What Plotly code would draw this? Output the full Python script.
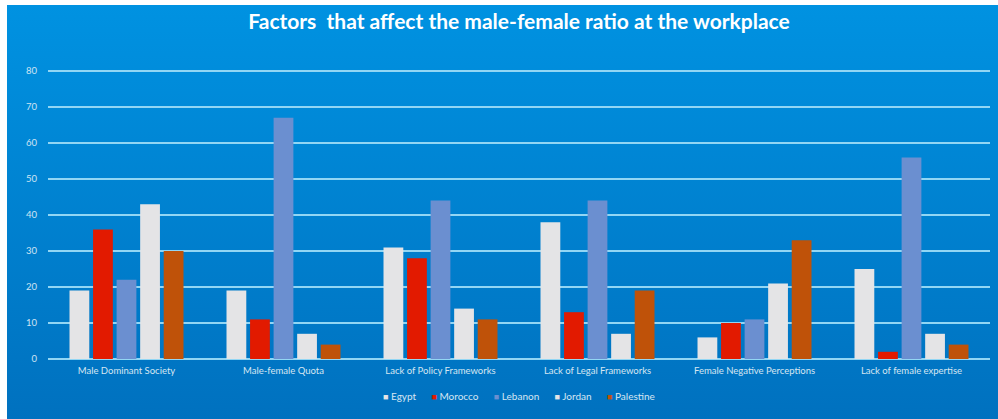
import base64
import plotly.graph_objects as go

categories = ["Male Dominant Society", "Male-female Quota", "Lack of Policy Frameworks",
              "Lack of Legal Frameworks", "Female Negative Perceptions", "Lack of female expertise"]
series_names = ["Egypt", "Morocco", "Lebanon", "Jordan", "Palestine"]
egypt = [19, 19, 31, 38, 6, 25]
morocco = [36, 11, 28, 13, 10, 2]
lebanon = [22, 67, 44, 44, 11, 56]
jordan = [43, 7, 14, 7, 21, 7]
palestine = [30, 4, 11, 19, 33, 4]
values = [egypt, morocco, lebanon, jordan, palestine]
colors = ["#e4e4e6", "#e21a00", "#6b8fd0", "#e4e4e6", "#bf5209"]
y_ticks = [0, 10, 20, 30, 40, 50, 60, 70, 80]

fig = go.Figure()
for name, vals, col in zip(series_names, values, colors):
    fig.add_trace(go.Bar(name=name, x=categories, y=vals, showlegend=False,
                         marker=dict(color=col, line=dict(width=0))))

svg = ('<svg xmlns="http://www.w3.org/2000/svg" width="100" height="100" preserveAspectRatio="none">'
       '<defs><linearGradient id="g" x1="0" y1="0" x2="0" y2="1">'
       '<stop offset="0" stop-color="#0092e1"/><stop offset="1" stop-color="#0071bf"/>'
       '</linearGradient></defs><rect width="100" height="100" fill="url(#g)"/></svg>')
src = "data:image/svg+xml;base64," + base64.b64encode(svg.encode()).decode()

L, R, T, B = 48, 8, 64, 60
W, H = 998, 419
pw, ph = W - L - R, H - T - B
ymax = ph / 3.6
x0 = (7 - L) / pw
x1 = (998 - L) / pw
y0 = (H - B - 5) / ph
y1 = (H - B - 419) / ph

gap = "&nbsp;" * 6
legend_text = gap.join(
    f'<span style="color:{c};font-size:9px">■</span>&nbsp;{n}' for n, c in zip(series_names, colors))

fig.update_layout(
    width=W, height=H,
    margin=dict(l=L, r=R, t=T, b=B),
    paper_bgcolor="white",
    plot_bgcolor="rgba(0,0,0,0)",
    images=[dict(source=src, xref="paper", yref="paper", x=x0, y=y0,
                 sizex=x1 - x0, sizey=y0 - y1, xanchor="left", yanchor="top",
                 sizing="stretch", layer="below")],
    barmode="group",
    bargap=0.25,
    bargroupgap=0.16,
    showlegend=False,
    title=dict(text="<b>Factors  that affect the male-female ratio at the workplace</b>",
               x=0.5, xref="paper", xanchor="center", y=1 - 22 / H, yanchor="middle",
               font=dict(family="Lato", size=21, color="white")),
    font=dict(family="Lato", color="#d6e6f2"),
    xaxis=dict(showgrid=False, showline=False, zeroline=False, ticks="",
               tickfont=dict(size=9.5, color="#d6e6f2"), ticklabelstandoff=4),
    yaxis=dict(range=[0, ymax], tickvals=y_ticks, showgrid=True, gridcolor="#92d6f4",
               gridwidth=1.5, zeroline=True, zerolinecolor="#92d6f4", zerolinewidth=1.5,
               showline=False, ticks="", tickfont=dict(size=9.5, color="#cfe4f4"),
               ticklabelstandoff=10),
    annotations=[dict(text=legend_text, xref="paper", yref="paper", x=0.5, xanchor="center",
                      y=(H - B - 396) / ph, yanchor="middle", showarrow=False,
                      font=dict(family="Lato", size=10, color="#d6e6f2"))],
)

fig.write_html("out.html")
